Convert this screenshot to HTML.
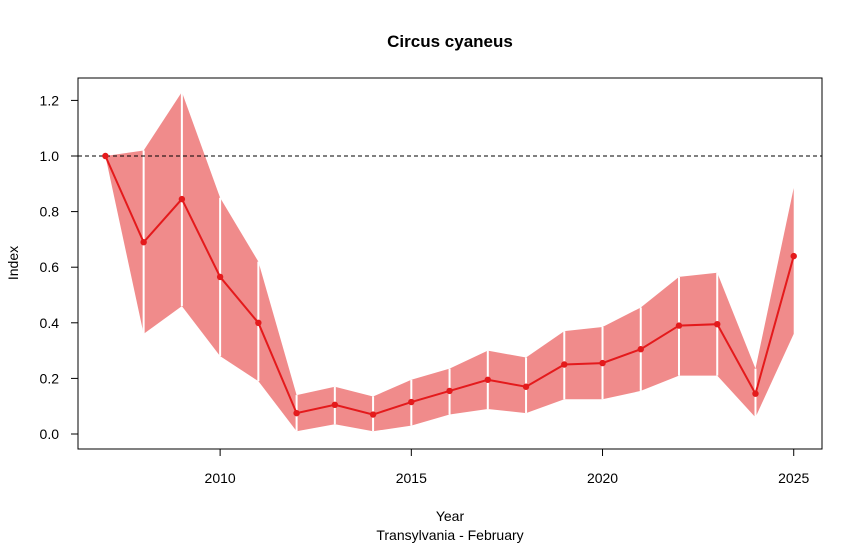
<!DOCTYPE html>
<html><head><meta charset="utf-8"><style>
body{margin:0;background:#fff}
svg text{font-family:"Liberation Sans",Arial,sans-serif}
</style></head><body>
<svg id="chart" width="862" height="546" xmlns="http://www.w3.org/2000/svg">
<text x="450" y="47" text-anchor="middle" font-size="17" font-weight="bold">Circus cyaneus</text>
<g id="band"></g>
<line x1="78" x2="822" y1="156" y2="156" stroke="#000" stroke-dasharray="4,3" stroke-width="1"/>
<g id="series"></g>
<rect x="78" y="78" width="744" height="371" fill="none" stroke="#000"/>
<g id="xaxis"></g>
<g id="yaxis"></g>
<text x="450" y="521" text-anchor="middle" font-size="14">Year</text>
<text x="450" y="540" text-anchor="middle" font-size="14">Transylvania - February</text>
<text transform="translate(18,263) rotate(-90)" text-anchor="middle" font-size="14">Index</text>
</svg>
<script>
const years=[2007,2008,2009,2010,2011,2012,2013,2014,2015,2016,2017,2018,2019,2020,2021,2022,2023,2024,2025];
const index=[1.0,0.69,0.845,0.565,0.40,0.075,0.105,0.07,0.115,0.155,0.195,0.17,0.25,0.255,0.305,0.39,0.395,0.145,0.64];
const lower=[1.0,0.36,0.46,0.28,0.19,0.01,0.035,0.01,0.03,0.07,0.09,0.075,0.125,0.125,0.155,0.21,0.21,0.06,0.36];
const upper=[1.0,1.02,1.23,0.85,0.62,0.14,0.17,0.135,0.195,0.235,0.30,0.275,0.37,0.385,0.455,0.565,0.58,0.235,0.885];
const xTicks=[2010,2015,2020,2025];
const yTicks=[0.0,0.2,0.4,0.6,0.8,1.0,1.2];
const X=y=>105.4+(y-2007)*38.24;
const Y=v=>434-v*278;
const NS='http://www.w3.org/2000/svg';
function mk(t,a,p){const e=document.createElementNS(NS,t);for(const k in a)e.setAttribute(k,a[k]);p.appendChild(e);return e;}
const band=document.getElementById('band');
for(let i=0;i<years.length-1;i++){
 const pts=[[X(years[i]),Y(upper[i])],[X(years[i+1]),Y(upper[i+1])],[X(years[i+1]),Y(lower[i+1])],[X(years[i]),Y(lower[i])]];
 const p=mk('polygon',{points:pts.map(q=>q.join(',')).join(' '),fill:'#F08B8B',stroke:'none'},band);
 
 
}
for(let i=1;i<years.length-1;i++){
 const l=mk('line',{x1:X(years[i]),x2:X(years[i]),y1:Y(upper[i]),y2:Y(lower[i]),stroke:'#fff','stroke-width':2},band);
 
 
}
const s=document.getElementById('series');
const pl=mk('polyline',{points:years.map((y,i)=>X(y)+','+Y(index[i])).join(' '),fill:'none',stroke:'#E41A1C','stroke-width':2},s);


years.forEach((y,i)=>{
 const c=mk('circle',{cx:X(y),cy:Y(index[i]),r:3.2,fill:'#E41A1C'},s);
 
 
});
const xa=document.getElementById('xaxis');
mk('line',{x1:X(2010),x2:X(2025),y1:449,y2:449,stroke:'#000'},xa);
xTicks.forEach(t=>{
 mk('line',{x1:X(t),x2:X(t),y1:449,y2:456,stroke:'#000'},xa);
 const tx=mk('text',{x:X(t),y:483,'text-anchor':'middle','font-size':14},xa);tx.textContent=t;
 
 
});
const ya=document.getElementById('yaxis');
yTicks.forEach(t=>{
 mk('line',{x1:71,x2:78,y1:Y(t),y2:Y(t),stroke:'#000'},ya);
 const tx=mk('text',{x:59,y:Y(t)+5,'text-anchor':'end','font-size':14},ya);tx.textContent=t.toFixed(1);
 
 
});
</script>
</body></html>
